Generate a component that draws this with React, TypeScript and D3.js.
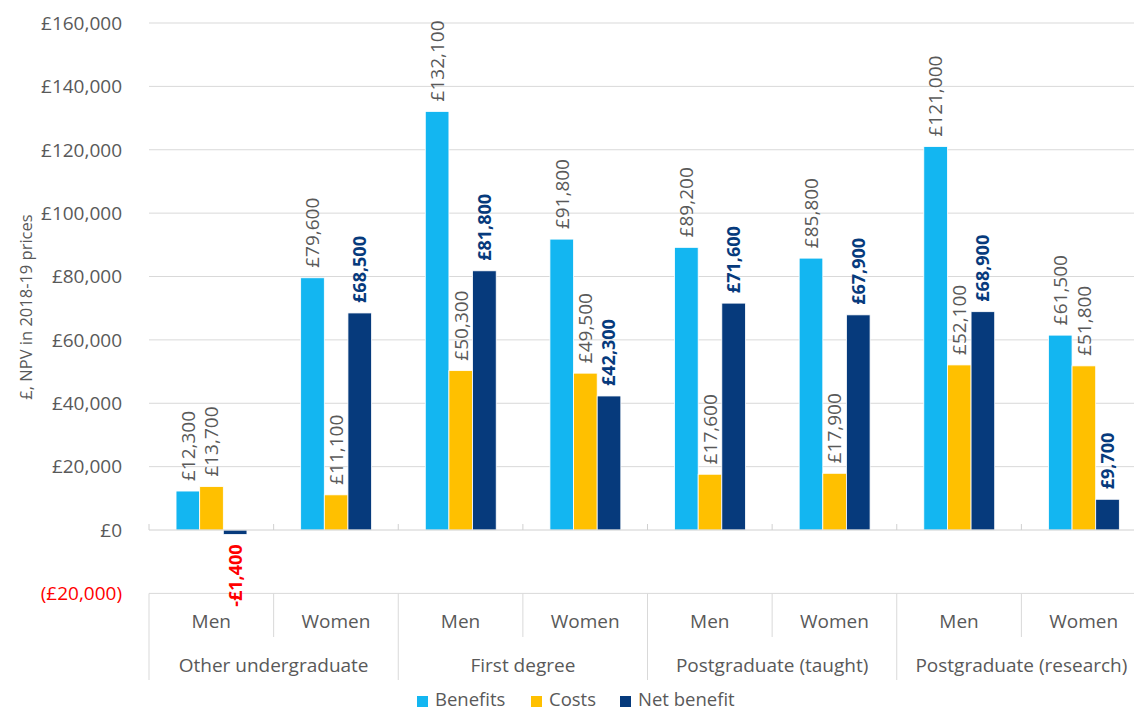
import React from "react";
import * as d3 from "d3";

// Qualification levels, split by sex
const groups = ["Other undergraduate", "First degree", "Postgraduate (taught)", "Postgraduate (research)"];
const sexes = ["Men", "Women"];
const seriesNames = ["Benefits", "Costs", "Net benefit"];

// Values in £ (NPV, 2018-19 prices), one entry per group × sex
const benefits = [12300, 79600, 132100, 91800, 89200, 85800, 121000, 61500];
const costs = [13700, 11100, 50300, 49500, 17600, 17900, 52100, 51800];
const netBenefit = [-1400, 68500, 81800, 42300, 71600, 67900, 68900, 9700];

const yTicks = [-20000, 0, 20000, 40000, 60000, 80000, 100000, 120000, 140000, 160000];

const colors = ["#13B6F1", "#FFC000", "#063A7C"];
const FONT = "'Open Sans', 'DejaVu Sans', sans-serif";

const W = 1134;
const H = 713;
const left = 149;
const right = 1146;
const top = 23;
const bottom = 593.4;

export default function App() {
  const cats = groups.flatMap((g) => sexes.map((s) => `${g}|${s}`));
  const x = d3.scaleBand<string>().domain(cats).range([left, right]).padding(0);
  const bw = x.bandwidth();
  const xs = d3
    .scaleBand<string>()
    .domain(seriesNames)
    .range([bw * 0.217, bw * 0.786])
    .padding(0);
  const y = d3.scaleLinear().domain([-20000, 160000]).range([bottom, top]);

  const data = [benefits, costs, netBenefit];
  const money = d3.format(",.0f");
  const fmtTick = (v: number) => (v < 0 ? `(£${money(-v)})` : `£${money(v)}`);
  const fmtLabel = (v: number) => (v < 0 ? `-£${money(-v)}` : `£${money(v)}`);

  const legendX = [417, 531, 620];

  return (
    <div style={{ position: "absolute", left: 0, top: 0 }}>
      <svg width={W} height={H} style={{ display: "block", fontFamily: FONT }}>
        <rect width={W} height={H} fill="#fff" />

        {/* horizontal gridlines */}
        {yTicks
          .filter((t) => t > 0)
          .map((t) => (
            <line key={t} x1={left} x2={right} y1={y(t)} y2={y(t)} stroke="#d9d9d9" strokeWidth={1} />
          ))}
        <line x1={left} x2={right} y1={y(-20000)} y2={y(-20000)} stroke="#d9d9d9" strokeWidth={1} />

        {/* y tick labels */}
        {yTicks.map((t) => (
          <text
            key={t}
            x={122}
            y={y(t)}
            dy="0.36em"
            textAnchor="end"
            fontSize={19}
            fill={t < 0 ? "#ff0000" : "#595959"}
          >
            {fmtTick(t)}
          </text>
        ))}

        {/* y axis title */}
        <text
          transform={`translate(32, 307) rotate(-90)`}
          textAnchor="middle"
          fontSize={16.5}
          fill="#595959"
        >
          £, NPV in 2018-19 prices
        </text>

        {/* bars */}
        {cats.map((c, i) => (
          <g key={c} transform={`translate(${x(c)},0)`}>
            {data.map((vals, si) => {
              const v = vals[i];
              const y0 = y(Math.max(0, v));
              const h = Math.abs(y(v) - y(0));
              return (
                <rect
                  key={si}
                  x={xs(seriesNames[si])}
                  y={y0}
                  width={xs.bandwidth()}
                  height={h}
                  fill={colors[si]}
                  stroke="#fff"
                  strokeWidth={0.8}
                />
              );
            })}
          </g>
        ))}

        {/* zero axis line with tick marks */}
        <line x1={left} x2={right} y1={y(0)} y2={y(0)} stroke="#d0d0d0" strokeWidth={1} />
        {cats.map((c) => (
          <line key={c} x1={x(c)} x2={x(c)} y1={y(0)} y2={y(0) - 6} stroke="#d0d0d0" strokeWidth={1} />
        ))}

        {/* data labels */}
        {cats.map((c, i) =>
          data.map((vals, si) => {
            const v = vals[i];
            const cx = (x(c) as number) + (xs(seriesNames[si]) as number) + xs.bandwidth() / 2;
            const isNet = si === 2;
            const neg = v < 0;
            const ly = neg ? y(v) + 10 : y(v) - 10;
            return (
              <text
                key={`${c}-${si}`}
                transform={`translate(${cx}, ${ly}) rotate(-90)`}
                dy="0.36em"
                textAnchor={neg ? "end" : "start"}
                fontSize={isNet ? 18 : 19}
                fontWeight={isNet ? 700 : 400}
                fill={neg ? "#ff0000" : isNet ? "#063A7C" : "#595959"}
              >
                {fmtLabel(v)}
              </text>
            );
          })
        )}

        {/* category axis separators */}
        {cats.map((c, i) => (
          <line
            key={c}
            x1={x(c)}
            x2={x(c)}
            y1={bottom}
            y2={i % 2 === 0 ? 680 : 637}
            stroke="#d9d9d9"
            strokeWidth={1}
          />
        ))}
        <line x1={right} x2={right} y1={bottom} y2={680} stroke="#d9d9d9" strokeWidth={1} />

        {/* sex labels */}
        {cats.map((c) => (
          <text key={c} x={(x(c) as number) + bw / 2} y={628} textAnchor="middle" fontSize={19} fill="#595959">
            {c.split("|")[1]}
          </text>
        ))}

        {/* group labels */}
        {groups.map((g) => (
          <text key={g} x={(x(`${g}|Men`) as number) + bw} y={672} textAnchor="middle" fontSize={19} fill="#595959">
            {g}
          </text>
        ))}

        {/* legend */}
        {seriesNames.map((s, i) => (
          <g key={s}>
            <rect x={legendX[i]} y={696} width={11} height={11} fill={colors[i]} />
            <text x={legendX[i] + 18} y={706} fontSize={18.5} fill="#595959">
              {s}
            </text>
          </g>
        ))}
      </svg>
    </div>
  );
}
